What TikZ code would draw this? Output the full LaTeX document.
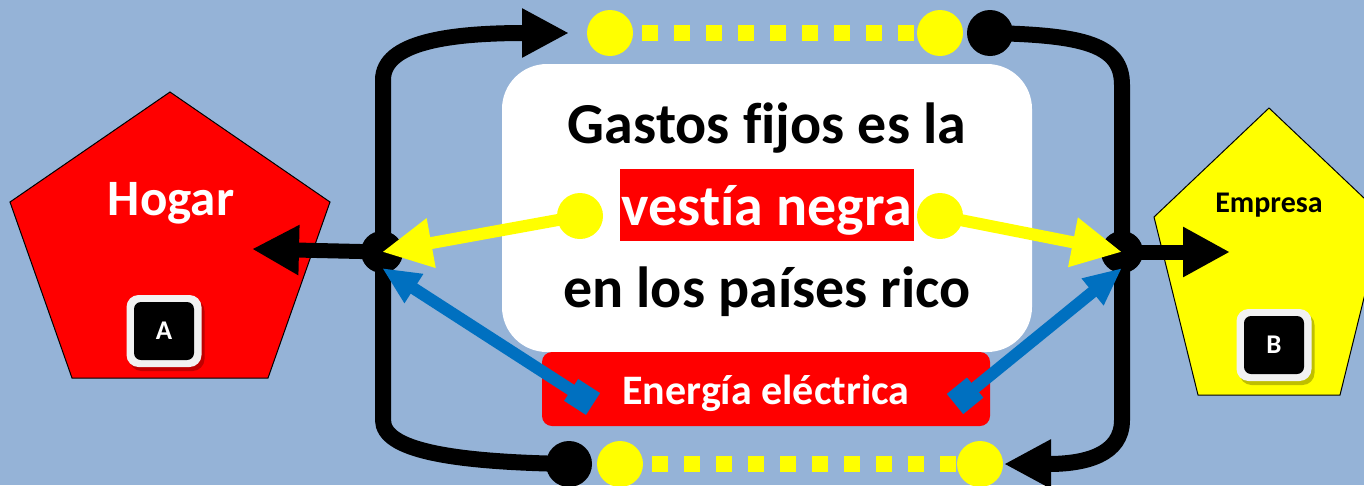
\documentclass[tikz,border=0pt]{standalone}
\usepackage{fontspec}
\setmainfont{Carlito}[Ligatures=NoCommon]
\usepackage{tikz}
\usetikzlibrary{arrows.meta}
\usetikzlibrary{positioning}
\usetikzlibrary{shadows}
\definecolor{fondo}{HTML}{95B3D7}
\definecolor{rojo}{HTML}{FF0000}
\definecolor{amarillo}{HTML}{FFFF00}
\definecolor{azul}{HTML}{0070C0}
\definecolor{tecla}{HTML}{F2F2F2}
\newcommand\grande{\fontsize{58pt}{60pt}\selectfont\bfseries}
\tikzset{
  grueso/.style={line width=16pt},
  punta/.style={-{Triangle[length=47pt,width=46pt]}},
  bola/.style={circle,fill=#1,inner sep=0pt,minimum size=46pt},
  nudo/.style={circle,fill=black,inner sep=0pt,minimum size=42pt},
  puntos/.style={amarillo,line width=16pt,dash pattern=on 16pt off 16pt},
  flechaam/.style={amarillo,line width=12pt,-{Triangle[length=50pt,width=47pt]}},
  flechaaz/.style={azul,line width=12pt,{Square[length=26pt,width=26pt]}-{Triangle[length=38pt,width=32pt]}},
  keyout/.style={rectangle,rounded corners=12pt,fill=tecla,minimum width=75pt,minimum height=72pt,
    drop shadow={shadow xshift=3pt,shadow yshift=-4pt,fill=black,opacity=0.25}},
  keyin/.style={rectangle,rounded corners=7pt,fill=black,text=white,minimum width=60pt,minimum height=58pt,
    font=\fontsize{27pt}{27pt}\selectfont\bfseries}
}
\begin{document}
\begin{tikzpicture}[x=1pt,y=-1pt]
        \useasboundingbox (0,0) rectangle (1364,485);
        \fill[fondo] (0,0) rectangle (1364,485);
        \clip (0,0) rectangle (1364,485);
        \draw[fill=rojo,line width=1pt] (170,92) -- (330,202) -- (268,378) -- (72,378) -- (10,202) -- cycle;
        \draw[fill=amarillo,line width=1pt] (1269,108) -- (1384,217) -- (1340,395) -- (1198,395) -- (1154,217) -- cycle;
        \node[anchor=base,text=white,font=\fontsize{51pt}{51pt}\selectfont\bfseries] (hogar) at (171,215) {Hogar};
        \node[anchor=base,font=\fontsize{30pt}{30pt}\selectfont\bfseries] (empresa) at (1269,212) {Empresa};
        \node[keyout] (ka) at (164,331) {};
        \node[keyin] (a) at (ka) {A};
        \node[keyout] (kb) at (1274,345) {};
        \node[keyin] (b) at (kb) {B};
        \begin{scope}[every node/.style={bola=black}]
        \node (nb) at (569,464) {};
        \node (nt) at (990,33) {};
        \end{scope}
        \coordinate (la) at (569,33);
        \coordinate (lb) at (1004,464);
        \draw[grueso,punta] (nb.center) .. controls (450,462) and (383,450) .. (383,420) -- (383,80) .. controls (383,42) and (450,33) .. (la);
        \draw[grueso,punta] (nt.center) .. controls (1085,35) and (1122,45) .. (1122,85) -- (1122,420) .. controls (1122,455) and (1085,464) .. (lb);
        \node[fill=white,rounded corners=45pt,minimum width=530pt,minimum height=288pt] (caja) at (767,208) {};
        \node[anchor=base,font=\grande] (t1) at (767,143) {Gastos f\kern0pt ijos es la};
        \node[anchor=base,font=\grande,fill=rojo,text=white,inner xsep=2pt,inner ysep=0pt,text height=56pt,text depth=16pt] (t2) at (767,225) {vestía negra};
        \node[anchor=base,font=\grande] (t3) at (767,307) {en los países rico};
        \node[anchor=base,fill=rojo,rounded corners=10pt,text=white,font=\fontsize{42pt}{42pt}\selectfont\bfseries,minimum width=448pt,inner ysep=0pt,text height=52pt,text depth=22pt] (energia) at (766,404) {Energía eléctrica};
        \begin{scope}[every node/.style={bola=amarillo}]
        \node (yt1) at (610,33) {};
        \node (yt2) at (940,33) {};
        \node (yb1) at (620,464) {};
        \node (yb2) at (980,464) {};
        \node (ya) at (580,216) {};
        \node (yb) at (940,216) {};
        \end{scope}
        \draw[puntos,shorten <=32pt,shorten >=26pt] (yt1.center) -- (yt2.center);
        \draw[puntos,shorten <=32pt,shorten >=24pt] (yb1.center) -- (yb2.center);
        \node[nudo] (jl) at (382,252) {};
        \node[nudo] (jr) at (1122,252) {};
        \coordinate (h) at (252,249);
        \coordinate (e) at (1230,252);
        \draw[line width=15pt,-{Triangle[length=47pt,width=47pt]}] (jl.center) -- (h);
        \draw[line width=15pt,-{Triangle[length=47pt,width=47pt]}] (jr.center) -- (e);
        \draw[flechaam] (ya.center) -- (jl.center);
        \draw[flechaam] (yb.center) -- (jr.center);
        \coordinate (qa) at (593,404);
        \coordinate (qb) at (955,404);
        \coordinate (ta) at (382,268);
        \coordinate (tb) at (1122,268);
        \draw[flechaaz] (qa) -- (ta);
        \draw[flechaaz] (qb) -- (tb);
        \end{tikzpicture}
\end{document}
